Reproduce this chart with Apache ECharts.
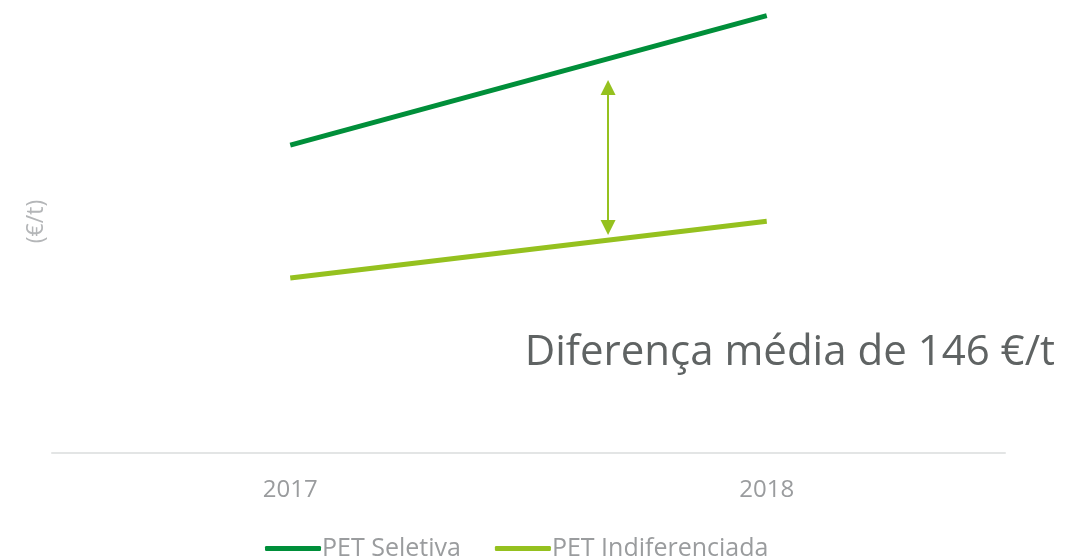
<!DOCTYPE html>
<html><head><meta charset="utf-8">
<script src="https://cdn.jsdelivr.net/npm/echarts@6/dist/echarts.min.js"></script>
<style>html,body{margin:0;padding:0;background:#fff}#c{width:1068px;height:559px}</style>
</head><body><div id="c"></div>
<script>
const years = ['2017', '2018'];
const petSeletiva = [271, 385];
const petIndiferenciada = [154, 204];
const arrowX = [0.667];
const arrowRange = [198.5, 321.7];
const annotation = 'Diferença média de 146 €/t';
const yName = '(€/t)';

const chart = echarts.init(document.getElementById('c'));
const font = '"Open Sans", sans-serif';
chart.setOption({
  animation: false,
  backgroundColor: '#fff',
  title: {
    text: annotation, right: 8, top: 327,
    textStyle: { fontFamily: font, fontSize: 42, fontWeight: 'normal', color: '#5f6363' }
  },
  legend: {
    bottom: -7, left: 260, icon: 'roundRect', itemWidth: 56, itemHeight: 5, itemGap: 34,
    data: ['PET Seletiva', 'PET Indiferenciada'],
    textStyle: { fontFamily: font, fontSize: 25, color: '#9a9c9e', padding: [0, 0, 0, -4] }
  },
  grid: { left: 52, right: 63, top: 10, bottom: 106 },
  xAxis: [{
    type: 'category', data: years, boundaryGap: true,
    axisLine: { lineStyle: { color: '#e3e5e5', width: 2 } },
    axisTick: { show: false },
    axisLabel: { fontFamily: font, fontSize: 24, color: '#9a9c9e', margin: 25 }
  }, {
    type: 'value', min: -0.5, max: 1.5, show: false
  }],
  yAxis: {
    type: 'value', min: 0, max: 390,
    name: yName, nameLocation: 'middle', nameGap: 4, nameRotate: 90,
    nameTextStyle: { fontFamily: font, fontSize: 23, color: '#b4b6b8', padding: [0, 0, 0, 20] },
    axisLine: { show: false }, axisTick: { show: false }, axisLabel: { show: false },
    splitLine: { show: false }
  },
  series: [{
    name: 'PET Seletiva', type: 'line', data: petSeletiva, showSymbol: false,
    lineStyle: { color: '#008f3a', width: 5 }, itemStyle: { color: '#008f3a' }
  }, {
    name: 'PET Indiferenciada', type: 'line', data: petIndiferenciada, showSymbol: false,
    lineStyle: { color: '#95c11f', width: 5 }, itemStyle: { color: '#95c11f' }
  }, {
    name: 'arrow', type: 'line', xAxisIndex: 1, data: [], silent: true,
    markLine: {
      silent: true, symbol: ['triangle', 'triangle'], symbolSize: [15, 15],
      label: { show: false },
      lineStyle: { color: '#95c11f', width: 2, type: 'solid' },
      data: [[{ coord: [arrowX[0], arrowRange[0]] }, { coord: [arrowX[0], arrowRange[1]] }]]
    }
  }]
});
</script></body></html>
